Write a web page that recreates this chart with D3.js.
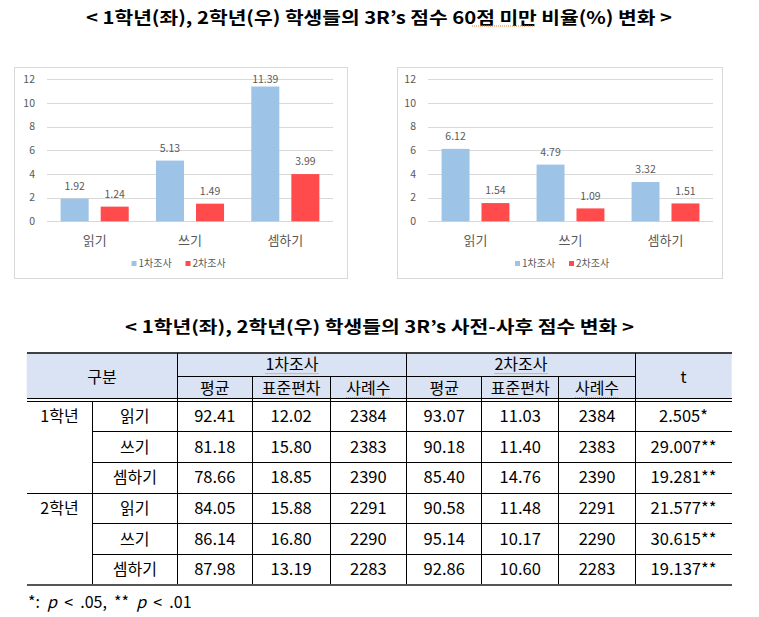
<!DOCTYPE html>
<html><head><meta charset="utf-8">
<script src="https://cdn.jsdelivr.net/npm/d3@7"></script>
<style>
html,body{margin:0;padding:0;background:#fff;}
svg{display:block;font-family:"Noto Sans CJK KR","Noto Sans",sans-serif;}
</style>
</head><body>
<svg id="c" width="759" height="617"></svg>
<script>
// ---------- data ----------
const categories = ["읽기", "쓰기", "셈하기"];
const seriesNames = ["1차조사", "2차조사"];
const grade1Round1 = [1.92, 5.13, 11.39];
const grade1Round2 = [1.24, 1.49, 3.99];
const grade2Round1 = [6.12, 4.79, 3.32];
const grade2Round2 = [1.54, 1.09, 1.51];
const yTicks = [0, 2, 4, 6, 8, 10, 12];

const chartTitle = "< 1학년(좌), 2학년(우) 학생들의 3R’s 점수 60점 미만 비율(%) 변화 >";
const tableTitle = "< 1학년(좌), 2학년(우) 학생들의 3R’s 사전-사후 점수 변화 >";

const tableGrades = ["1학년", "2학년"];
const tableSubjects = ["읽기", "쓰기", "셈하기", "읽기", "쓰기", "셈하기"];
const tableGroupHeaders = ["1차조사", "2차조사"];
const tableSubHeaders = ["평균", "표준편차", "사례수"];
const mean1 = [92.41, 81.18, 78.66, 84.05, 86.14, 87.98];
const sd1 = [12.02, 15.80, 18.85, 15.88, 16.80, 13.19];
const n1 = [2384, 2383, 2390, 2291, 2290, 2283];
const mean2 = [93.07, 90.18, 85.40, 90.58, 95.14, 92.86];
const sd2 = [11.03, 11.40, 14.76, 11.48, 10.17, 10.60];
const n2 = [2384, 2383, 2390, 2291, 2290, 2283];
const tValues = ["2.505*", "29.007**", "19.281**", "21.577**", "30.615**", "19.137**"];

// ---------- drawing ----------
const svg = d3.select("#c");
const colors = ["#9dc3e6", "#ff4b4b"];
const gray = "#595959";

function underline(sel, color) {
  const bb = sel.node().getBBox();
  svg.append("line")
    .attr("x1", bb.x).attr("x2", bb.x + bb.width)
    .attr("y1", bb.y + bb.height - 1).attr("y2", bb.y + bb.height - 1)
    .attr("stroke", color).attr("stroke-width", 1).attr("stroke-dasharray", "1,1");
}

// main title
svg.append("text").attr("x", 379).attr("y", 24).attr("text-anchor", "middle")
  .attr("font-size", 17.5).attr("font-weight", 700).attr("fill", "#000")
  .attr("textLength", 586).attr("lengthAdjust", "spacingAndGlyphs")
  .text(chartTitle);
svg.append("line").attr("x1", 472).attr("x2", 535).attr("y1", 26).attr("y2", 26)
  .attr("stroke", "#e07b39").attr("stroke-width", 1).attr("stroke-dasharray", "1,1");

function drawChart(box, plot, legendX, r1, r2) {
  const g = svg.append("g");
  g.append("rect").attr("x", box.x + 0.5).attr("y", box.y + 0.5)
    .attr("width", box.w).attr("height", box.h)
    .attr("fill", "#fff").attr("stroke", "#d9d9d9");

  const y = d3.scaleLinear().domain([0, 12]).range([plot.y0, plot.y1]);
  const x0 = d3.scaleBand().domain(categories).range([plot.x0, plot.x1]);
  const x1 = d3.scaleBand().domain(seriesNames).range([0, x0.bandwidth()])
    .paddingInner(0.3).paddingOuter(0.34);

  g.selectAll("line.grid").data(yTicks).join("line")
    .attr("x1", plot.x0).attr("x2", plot.x1)
    .attr("y1", d => Math.round(y(d)) + 0.5).attr("y2", d => Math.round(y(d)) + 0.5)
    .attr("stroke", "#d9d9d9").attr("stroke-width", 1);
  g.selectAll("text.tick").data(yTicks).join("text")
    .attr("x", plot.x0 - 12).attr("y", d => y(d)).attr("dy", "0.35em")
    .attr("text-anchor", "end").attr("font-size", 10.5).attr("fill", gray)
    .text(d => d);

  const rows = categories.map((c, i) => [
    {cat: c, s: seriesNames[0], v: r1[i]},
    {cat: c, s: seriesNames[1], v: r2[i]}
  ]).flat();

  g.selectAll("rect.bar").data(rows).join("rect")
    .attr("x", d => x0(d.cat) + x1(d.s))
    .attr("y", d => y(d.v))
    .attr("width", x1.bandwidth())
    .attr("height", d => y(0) - y(d.v))
    .attr("fill", d => colors[seriesNames.indexOf(d.s)]);

  g.selectAll("text.lbl").data(rows).join("text")
    .attr("x", d => x0(d.cat) + x1(d.s) + x1.bandwidth() / 2)
    .attr("y", d => Math.max(y(d.v) - 12.5, y(12)))
    .attr("dy", "0.35em").attr("text-anchor", "middle")
    .attr("font-size", 10.5).attr("fill", gray)
    .text(d => d3.format(".2f")(d.v));

  g.selectAll("text.cat").data(categories).join("text")
    .attr("x", d => x0(d) + x0.bandwidth() / 2).attr("y", 240).attr("dy", "0.35em")
    .attr("text-anchor", "middle").attr("font-size", 13).attr("fill", gray)
    .text(d => d);

  const lg = g.append("g").attr("transform", `translate(${legendX},263.5)`);
  seriesNames.forEach((s, i) => {
    const gx = i * 54;
    lg.append("rect").attr("x", gx).attr("y", -2.5).attr("width", 5).attr("height", 5)
      .attr("fill", colors[i]);
    lg.append("text").attr("x", gx + 7).attr("y", 0).attr("dy", "0.35em")
      .attr("font-size", 10).attr("fill", gray).text(s);
  });
}

drawChart({x: 14, y: 67, w: 333, h: 211}, {x0: 47, x1: 333, y0: 221.3, y1: 79.3}, 131.5, grade1Round1, grade1Round2);
drawChart({x: 397, y: 67, w: 325, h: 211}, {x0: 428, x1: 713, y0: 221.3, y1: 79.3}, 515, grade2Round1, grade2Round2);

// ---------- table ----------
svg.append("text").attr("x", 379.5).attr("y", 333).attr("text-anchor", "middle")
  .attr("font-size", 16.5).attr("font-weight", 700).attr("fill", "#000")
  .attr("textLength", 509).attr("lengthAdjust", "spacingAndGlyphs")
  .text(tableTitle);

const colEdges = [26.7, 92.3, 177.3, 252.3, 330, 406.7, 481.7, 558.7, 635.3, 731.7];
const cx = i => (colEdges[i] + colEdges[i + 1]) / 2;
const tTop = 352.7, hMid = 376, hBot = 401;
const rowY = d3.scaleBand().domain(d3.range(6)).range([hBot, 585]);

svg.append("rect").attr("x", colEdges[0]).attr("y", tTop).attr("width", colEdges[9] - colEdges[0])
  .attr("height", hBot - tTop - 2).attr("fill", "#dae3f3");

const T = svg.append("g").attr("font-size", 16).attr("fill", "#000");

T.append("text").attr("x", (colEdges[0] + colEdges[2]) / 2).attr("y", 377).attr("dy", "0.35em")
  .attr("text-anchor", "middle").text("구분");
tableGroupHeaders.forEach((h, i) => {
  const t = T.append("text").attr("x", (colEdges[2 + i * 3] + colEdges[5 + i * 3]) / 2).attr("y", 364)
    .attr("dy", "0.35em").attr("text-anchor", "middle").text(h);
  underline(t, "#e07b39");
  tableSubHeaders.forEach((s, j) => {
    const st = T.append("text").attr("x", cx(2 + i * 3 + j)).attr("y", 388).attr("dy", "0.35em")
      .attr("text-anchor", "middle").text(s);
    if (j === 2) underline(st, "#e07b39");
  });
});
T.append("text").attr("x", cx(8)).attr("y", 377).attr("dy", "0.35em")
  .attr("text-anchor", "middle").text("t");

const f2 = d3.format(".2f");
const cols = [mean1.map(f2), sd1.map(f2), n1.map(String), mean2.map(f2), sd2.map(f2), n2.map(String), tValues];
d3.range(6).forEach(r => {
  const yc = rowY(r) + rowY.bandwidth() / 2;
  if (r % 3 === 0) {
    T.append("text").attr("x", cx(0)).attr("y", yc).attr("dy", "0.35em")
      .attr("text-anchor", "middle").text(tableGrades[r / 3]);
  }
  T.append("text").attr("x", cx(1)).attr("y", yc).attr("dy", "0.35em")
    .attr("text-anchor", "middle").text(tableSubjects[r]);
  cols.forEach((col, c) => {
    T.append("text").attr("x", cx(2 + c)).attr("y", yc).attr("dy", "0.35em")
      .attr("text-anchor", "middle").attr("font-size", 16.5).text(col[r]);
  });
});

const L = svg.append("g").attr("stroke", "#000").attr("stroke-width", 1).attr("shape-rendering", "crispEdges");
function hl(x1, x2, y, w, c) {
  L.append("line").attr("x1", x1).attr("x2", x2).attr("y1", y).attr("y2", y)
    .attr("stroke-width", w || 1).attr("stroke", c || "#000");
}
function vl(x, y1, y2) {
  L.append("line").attr("x1", x).attr("x2", x).attr("y1", y1).attr("y2", y2);
}
hl(colEdges[0], colEdges[9], tTop, 2, "#404040");
hl(colEdges[2], colEdges[8], hMid);
hl(colEdges[0], colEdges[9], hBot - 2.5);
hl(colEdges[0], colEdges[9], hBot);
d3.range(1, 6).forEach(r => {
  hl(r === 3 ? colEdges[0] : colEdges[1], colEdges[9], rowY(r));
});
hl(colEdges[0], colEdges[9], 585, 2.5, "#555");
[2, 5, 8].forEach(i => vl(colEdges[i], tTop, 584));
[3, 4, 6, 7].forEach(i => vl(colEdges[i], hMid, 584));
vl(colEdges[1], hBot, 584);

// footnote
const nb = "\u00a0";
const fn = svg.append("text").attr("x", 28).attr("y", 602).attr("dy", "0.35em")
  .attr("font-size", 16).attr("fill", "#000");
fn.append("tspan").text("*:" + nb + nb);
fn.append("tspan").attr("font-style", "italic").text("p");
fn.append("tspan").text(nb + nb + "<" + nb + nb + ".05," + nb + nb + "**" + nb + nb);
fn.append("tspan").attr("font-style", "italic").text("p");
fn.append("tspan").text(nb + nb + "<" + nb + nb + ".01");
</script>
</body></html>
